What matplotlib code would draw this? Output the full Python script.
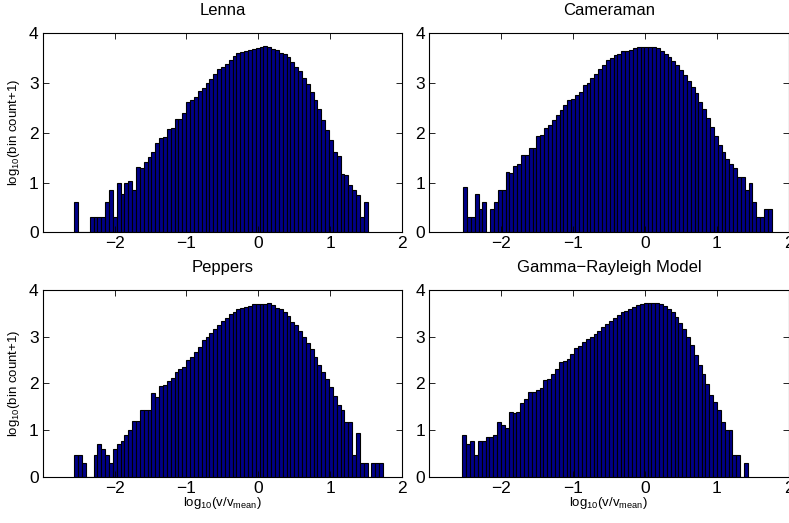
import numpy as np
import matplotlib
matplotlib.use("Agg")
import matplotlib.pyplot as plt

plt.rcParams['font.family'] = ['Liberation Sans', 'DejaVu Sans']
plt.rcParams['mathtext.fontset'] = 'custom'
plt.rcParams['mathtext.rm'] = 'Liberation Sans'
plt.rcParams['mathtext.it'] = 'Liberation Sans'

# histogram data: log10(bin count + 1)
bin_width = 0.0537

lenna_start = -2.56
lenna_heights = [
    0.602, 0, 0, 0, 0.301, 0.301, 0.301, 0.301, 0.602, 0.845,
    0.301, 1.0, 0.778, 1.0, 1.04, 0.845, 1.31, 1.29, 1.41, 1.51,
    1.61, 1.79, 1.90, 1.91, 2.08, 2.09, 2.27, 2.28, 2.39, 2.61,
    2.65, 2.71, 2.85, 2.91, 3.0, 3.08, 3.19, 3.29, 3.33, 3.39,
    3.47, 3.54, 3.61, 3.63, 3.65, 3.67, 3.69, 3.71, 3.73, 3.74,
    3.73, 3.69, 3.66, 3.60, 3.58, 3.52, 3.43, 3.33, 3.25, 3.11,
    2.98, 2.83, 2.65, 2.47, 2.26, 2.05, 1.85, 1.61, 1.54, 1.18,
    1.15, 0.96, 0.85, 0.75, 0.301, 0.602,
]

cameraman_start = -2.53
cameraman_heights = [
    0.903, 0.301, 0.301, 0.778, 0.477, 0.602, 0, 0.477, 0.602, 0.845,
    0.845, 1.22, 1.20, 1.33, 1.37, 1.55, 1.55, 1.70, 1.69, 1.93,
    1.96, 2.10, 2.15, 2.25, 2.36, 2.46, 2.55, 2.66, 2.68, 2.77,
    2.83, 2.96, 3.01, 3.10, 3.18, 3.28, 3.37, 3.47, 3.51, 3.57,
    3.58, 3.65, 3.65, 3.67, 3.71, 3.73, 3.73, 3.73, 3.73, 3.72,
    3.70, 3.65, 3.58, 3.52, 3.45, 3.36, 3.27, 3.16, 3.04, 2.92,
    2.80, 2.62, 2.48, 2.30, 2.12, 1.94, 1.75, 1.62, 1.47, 1.38,
    1.30, 1.12, 1.12, 0.845, 1.0, 0.602, 0.301, 0.301, 0.477, 0.477,
]

peppers_start = -2.56
peppers_heights = [
    0.477, 0.477, 0.301, 0, 0, 0.477, 0.699, 0.602, 0.477, 0.301,
    0.602, 0.699, 0.778, 0.903, 1.0, 1.19, 1.20, 1.43, 1.43, 1.43,
    1.80, 1.70, 1.95, 1.97, 2.05, 2.12, 2.25, 2.32, 2.35, 2.50,
    2.56, 2.68, 2.79, 2.92, 2.99, 3.07, 3.17, 3.25, 3.34, 3.41,
    3.48, 3.52, 3.59, 3.62, 3.64, 3.66, 3.69, 3.70, 3.71, 3.71,
    3.73, 3.67, 3.62, 3.59, 3.52, 3.44, 3.32, 3.25, 3.13, 2.99,
    2.86, 2.73, 2.57, 2.40, 2.25, 2.10, 1.92, 1.73, 1.55, 1.43,
    1.18, 1.18, 0.477, 0.93, 0.301, 0.301, 0, 0.301, 0.301, 0.301,
]

gamma_start = -2.54
gamma_heights = [
    0.903, 0.70, 0.778, 0.477, 0.778, 0.778, 0.845, 0.845, 0.903, 1.17,
    1.11, 1.04, 1.38, 1.37, 1.40, 1.58, 1.67, 1.82, 1.82, 1.87,
    1.90, 2.07, 2.10, 2.20, 2.30, 2.45, 2.48, 2.53, 2.64, 2.76,
    2.80, 2.88, 2.96, 3.00, 3.05, 3.12, 3.20, 3.27, 3.33, 3.40,
    3.46, 3.52, 3.56, 3.60, 3.64, 3.67, 3.70, 3.72, 3.73, 3.73,
    3.72, 3.70, 3.66, 3.60, 3.52, 3.42, 3.30, 3.16, 3.00, 2.82,
    2.61, 2.40, 2.20, 1.98, 1.75, 1.60, 1.43, 1.17, 1.0, 1.0,
    0.477, 0.477, 0, 0.301,
]

titles = ['Lenna', 'Cameraman', 'Peppers', 'Gamma\u2212Rayleigh Model']
starts = [lenna_start, cameraman_start, peppers_start, gamma_start]
heights = [lenna_heights, cameraman_heights, peppers_heights, gamma_heights]

x_ticks = [-2, -1, 0, 1, 2]
y_ticks = [0, 1, 2, 3, 4]

fig = plt.figure(figsize=(7.89, 5.23), dpi=100)

# axes boxes in figure fractions (MATLAB subplot layout)
positions = [
    [0.0541, 0.5558, 0.4554, 0.3805],
    [0.5441, 0.5558, 0.4554, 0.3805],
    [0.0541, 0.0880, 0.4554, 0.3576],
    [0.5441, 0.0880, 0.4554, 0.3576],
]

for k in range(4):
    ax = fig.add_axes(positions[k])
    h = np.array(heights[k])
    edges = starts[k] + bin_width * np.arange(len(h))
    ax.bar(edges, h, width=bin_width, align='edge',
           color='#000088', edgecolor='black', linewidth=0.8)

    ax.set_xlim(-3, 2)
    ax.set_ylim(0, 4)
    ax.set_xticks(x_ticks)
    ax.set_yticks(y_ticks)
    ax.tick_params(direction='in', top=True, right=True, length=4,
                   width=0.6, labelsize=12.5, pad=3)
    for s in ax.spines.values():
        s.set_linewidth(0.8)
    ax.set_title(titles[k], fontsize=12, pad=13)

    if k % 2 == 0:
        ax.set_ylabel(r'log$_{\mathrm{10}}$(bin count+1)', fontsize=9.5, labelpad=5)
    if k >= 2:
        ax.set_xlabel(r'log$_{\mathrm{10}}$(v/v$_{\mathrm{mean}}$)', fontsize=9.5, labelpad=-1)

fig.savefig('out.png', dpi=100)
